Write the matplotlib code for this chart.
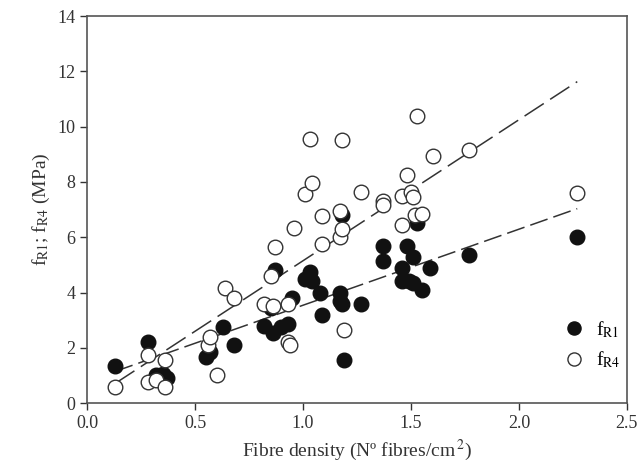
import matplotlib
matplotlib.use("Agg")
import matplotlib.pyplot as plt
import numpy as np

# fibre density (fibres/cm2) and residual strengths (MPa)
x_r1 = [0.13, 0.28, 0.32, 0.35, 0.37, 0.55, 0.57, 0.63, 0.68, 0.82, 0.85, 0.87, 0.86, 0.90,
        0.93, 0.95, 1.01, 1.03, 1.04, 1.08, 1.09, 1.17, 1.17, 1.18, 1.18, 1.19, 1.27, 1.37,
        1.37, 1.46, 1.46, 1.48, 1.49, 1.51, 1.51, 1.53, 1.55, 1.59, 1.77, 2.27]
f_r1 = [1.35, 2.2, 1.0, 1.05, 0.9, 1.65, 1.85, 2.75, 2.1, 2.8, 3.45, 4.8, 2.55, 2.75,
        2.85, 3.8, 4.5, 4.75, 4.4, 4.0, 3.2, 4.0, 3.7, 3.6, 6.8, 1.55, 3.6, 5.7,
        5.15, 4.9, 4.4, 5.7, 4.4, 4.35, 5.3, 6.5, 4.1, 4.9, 5.35, 6.0]

x_r4 = [0.13, 0.28, 0.28, 0.32, 0.36, 0.36, 0.56, 0.57, 0.60, 0.64, 0.68, 0.82, 0.86, 0.85,
        0.87, 0.93, 0.93, 0.94, 0.96, 1.01, 1.03, 1.04, 1.09, 1.09, 1.17, 1.17, 1.18, 1.18,
        1.19, 1.27, 1.37, 1.37, 1.46, 1.46, 1.48, 1.50, 1.51, 1.52, 1.53, 1.55, 1.60, 1.77, 2.27]
f_r4 = [0.6, 1.75, 0.75, 0.85, 1.55, 0.6, 2.1, 2.4, 1.0, 4.15, 3.8, 3.6, 3.5, 4.6,
        5.65, 3.6, 2.2, 2.1, 6.35, 7.55, 9.55, 7.95, 6.75, 5.75, 6.95, 6.0, 6.3, 9.5,
        2.65, 7.65, 7.3, 7.15, 7.5, 6.45, 8.25, 7.65, 7.45, 6.8, 10.4, 6.85, 8.95, 9.15, 7.6]

# linear fits (intercept, slope)
fit_r1 = (0.79, 2.75)
fit_r4 = (0.05, 5.1)
fit_range = (0.13, 2.27)

plt.rcParams['font.family'] = ['Liberation Serif', 'DejaVu Serif']
plt.rcParams['mathtext.fontset'] = 'stix'

fig = plt.figure(figsize=(6.41, 4.72), dpi=100)
ax = fig.add_axes([0.136, 0.146, 0.842, 0.820])

xx = np.array(fit_range)
ax.plot(xx, fit_r4[0] + fit_r4[1] * xx, color='#333333', lw=1.1, dashes=(15, 5))
ax.plot(xx, fit_r1[0] + fit_r1[1] * xx, color='#333333', lw=1.1, dashes=(12, 4))

ax.plot(x_r1, f_r1, 'o', ms=10.5, color='#111111', mec='#111111', label=r'f$_{\mathrm{R1}}$')
ax.plot(x_r4, f_r4, 'o', ms=10.5, mfc='white', mec='#333333', mew=1.0, label=r'f$_{\mathrm{R4}}$')

ax.set_xlim(0, 2.5)
ax.set_ylim(0, 14)
ax.set_xticks([0.0, 0.5, 1.0, 1.5, 2.0, 2.5])
ax.set_xticklabels(['0.0', '0.5', '1.0', '1.5', '2.0', '2.5'])
ax.set_yticks(range(0, 15, 2))
ax.tick_params(direction='out', length=5, width=1, labelsize=13, colors='#333333')
for s in ax.spines.values():
    s.set_color('#555555')
    s.set_linewidth(1.2)

ax.set_xlabel('Fibre density (Nº fibres/cm$^{\\,2}$)', fontsize=14, color='#333333')
ax.set_ylabel(r'f$_{\mathrm{R1}}$; f$_{\mathrm{R4}}$ (MPa)', fontsize=14, color='#333333')

ax.legend(loc='lower right', bbox_to_anchor=(1.02, 0.04), frameon=False, fontsize=14,
          handletextpad=0.1, labelspacing=0.5, markerscale=0.9)

fig.savefig('out.png', dpi=100)
